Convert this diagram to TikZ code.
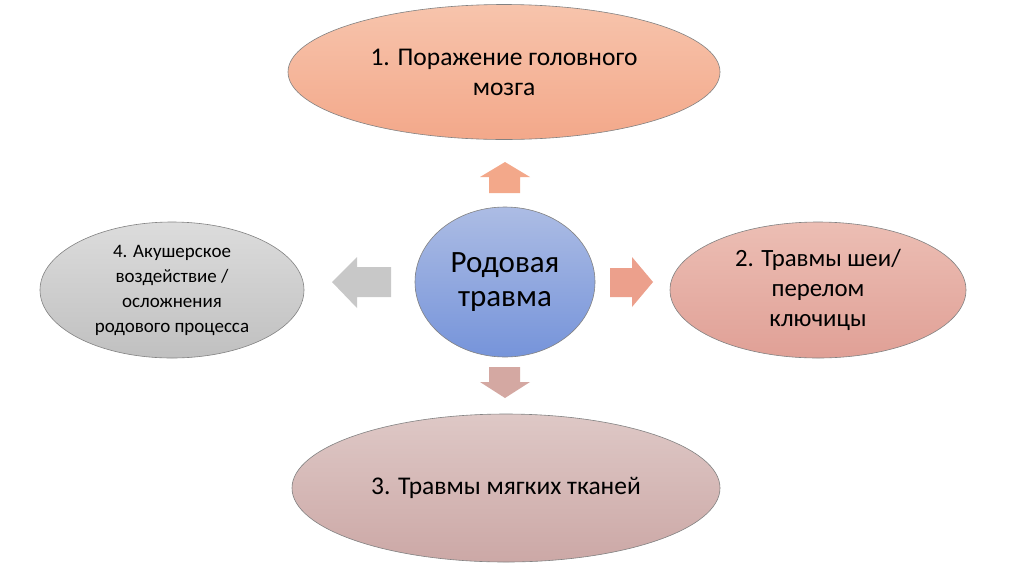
\documentclass[tikz,border=0pt]{standalone}
\usepackage{fontspec}
\setmainfont{Carlito}
\usetikzlibrary{shapes.geometric}
\definecolor{topA}{RGB}{247,196,172}
\definecolor{topB}{RGB}{243,168,138}
\definecolor{ctrA}{RGB}{172,188,228}
\definecolor{ctrB}{RGB}{118,148,218}
\definecolor{rgtA}{RGB}{236,190,180}
\definecolor{rgtB}{RGB}{224,160,150}
\definecolor{botA}{RGB}{222,200,198}
\definecolor{botB}{RGB}{204,168,166}
\definecolor{lftA}{RGB}{220,220,220}
\definecolor{lftB}{RGB}{192,192,192}
\definecolor{edge}{RGB}{130,130,130}
\definecolor{arrUp}{RGB}{243,168,138}
\definecolor{arrRt}{RGB}{236,160,140}
\definecolor{arrDn}{RGB}{212,168,162}
\definecolor{arrLt}{RGB}{200,200,200}
\tikzset{
  blob/.style={ellipse, draw=edge, line width=0.6pt, inner sep=0pt, align=center, text=black},
}
\begin{document}
\begin{tikzpicture}[x=1pt,y=-1pt]
\useasboundingbox (0,0) rectangle (1024,574);
\fill[white] (0,0) rectangle (1024,574);
% ellipses
\node[blob, minimum width=432, minimum height=135, top color=topA, bottom color=topB,
  font=\fontsize{25.5}{30}\selectfont] (brain) at (504,72) {1. Поражение головного\\мозга};
\node[blob, minimum width=180, minimum height=150, top color=ctrA, bottom color=ctrB,
  font=\fontsize{31}{34}\selectfont] (center) at (505,282) {Родовая\\травма};
\node[blob, minimum width=264, minimum height=136, top color=lftA, bottom color=lftB,
  font=\fontsize{19}{25}\selectfont] (obst) at (172,290) {4. Акушерское\\воздействие /\\осложнения\\родового процесса};
\node[blob, minimum width=296, minimum height=136, top color=rgtA, bottom color=rgtB,
  font=\fontsize{24.8}{30}\selectfont] (neck) at (818,290) {2. Травмы шеи/\\перелом\\ключицы};
\node[blob, minimum width=428, minimum height=148, top color=botA, bottom color=botB,
  font=\fontsize{25.5}{30}\selectfont] (soft) at (506,488) {3. Травмы мягких тканей};
% block arrows
\fill[arrUp] (505,162) -- (530,177) -- (520,177) -- (520,193) -- (489,193) -- (489,177) -- (480,177) -- cycle;
\fill[arrDn] (489,367) -- (520,367) -- (520,382) -- (530,382) -- (505,398) -- (480,382) -- (489,382) -- cycle;
\fill[arrLt] (332,282) -- (357,257) -- (357,267) -- (391,267) -- (391,297) -- (357,297) -- (357,308) -- cycle;
\fill[arrRt] (610,268) -- (632,268) -- (632,257) -- (653,282) -- (632,307) -- (632,297) -- (610,297) -- cycle;
\end{tikzpicture}
\end{document}
